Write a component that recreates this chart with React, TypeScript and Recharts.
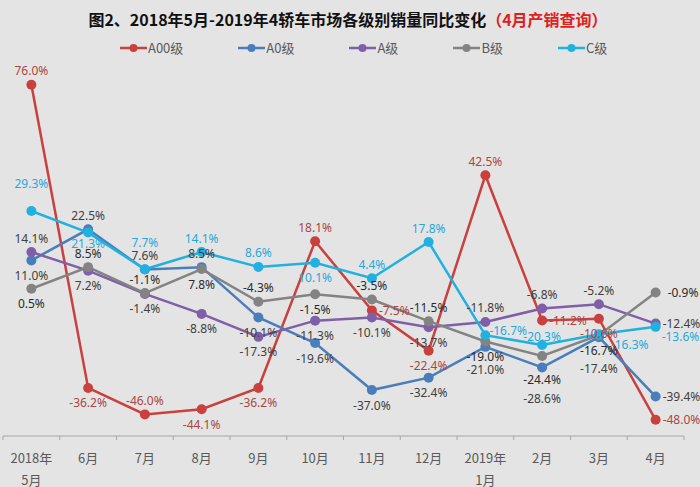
import { LineChart, Line, XAxis, YAxis, LabelList } from "recharts"

// months on the category axis (two-line labels at year starts)
const months = ["2018年\n5月", "6月", "7月", "8月", "9月", "10月", "11月", "12月", "2019年\n1月", "2月", "3月", "4月"]

// year-on-year change, %
const a00 = [76.0, -36.2, -46.0, -44.1, -36.2, 18.1, -7.5, -22.4, 42.5, -11.2, -10.6, -48.0]
const a0 = [11.0, 22.5, 7.6, 8.5, -10.1, -19.6, -37.0, -32.4, -21.0, -28.6, -17.4, -39.4]
const aClass = [14.1, 7.2, -1.4, -8.8, -17.3, -11.3, -10.1, -13.7, -11.8, -6.8, -5.2, -12.4]
const bClass = [0.5, 8.5, -1.1, 7.8, -4.3, -1.5, -3.5, -11.5, -19.0, -24.4, -16.7, -0.9]
const cClass = [29.3, 21.3, 7.7, 14.1, 8.6, 10.1, 4.4, 17.8, -16.7, -20.3, -16.3, -13.6]

const data = months.map((m, i) => ({
  month: m,
  a00: a00[i],
  a0: a0[i],
  a: aClass[i],
  b: bClass[i],
  c: cClass[i],
}))

const W = 700
const H = 487
const margin = { top: 74, right: 16, bottom: 0, left: 3 }
const BAND = (W - margin.left - margin.right) / months.length

// where each data label sits relative to its point
const OFFSETS: Record<string, [number, number, string]> = {
  t: [0, -14, "middle"],
  T: [0, -27, "middle"],
  u: [0, -8, "middle"],
  d: [0, 11, "middle"],
  b: [0, 15, "middle"],
  m: [0, 23, "middle"],
  B: [0, 31, "middle"],
  r: [7, 0, "start"],
  q: [12, 0, "start"],
  s: [4, -5, "start"],
  S: [12, 10, "start"],
  R: [6, 10, "start"],
}

const series = [
  { key: "a00", name: "A00级", color: "#c8413e", text: "#a94744", place: "tbtbbtrbtrbr" },
  { key: "a0", name: "A0级", color: "#4a7ebb", text: "#404040", place: "btttbbbbmBBr" },
  { key: "a", name: "A级", color: "#7f60a8", text: "#404040", place: "tbbbbbbbtttr" },
  { key: "b", name: "B级", color: "#838383", text: "#2b2b2b", place: "bttbtbttbmbq" },
  { key: "c", name: "C级", color: "#22b1df", text: "#27a8db", place: "TdTttbttsuSR" },
]

const makeLabel = (color: string, place: string) => (props: any) => {
  const { x, y, value, index } = props
  const [dx, dy, anchor] = OFFSETS[place[index]] || OFFSETS.t
  return (
    <text
      x={x + dx}
      y={y + dy}
      fill={color}
      fontSize={12}
      fontFamily="'Noto Sans', sans-serif"
      textAnchor={anchor as any}
      dominantBaseline="central"
    >
      {Number(value).toFixed(1)}%
    </text>
  )
}

const MonthTick = (props: any) => {
  const { x, y, payload, index } = props
  const lines = String(payload.value).split("\n")
  const left = x - BAND / 2
  return (
    <g>
      <line x1={left} x2={left} y1={y} y2={y + 4} stroke="#a6a6a6" />
      {index === months.length - 1 && (
        <line x1={x + BAND / 2} x2={x + BAND / 2} y1={y} y2={y + 4} stroke="#a6a6a6" />
      )}
      {lines.map((l, i) => (
        <text
          key={i}
          x={x}
          y={y + 21 + i * 22}
          textAnchor="middle"
          dominantBaseline="central"
          fontSize={13}
          fill="#595959"
          fontFamily="'Noto Sans CJK SC', sans-serif"
        >
          {l}
        </text>
      ))}
    </g>
  )
}

export default function App() {
  return (
    <div
      style={{
        position: "absolute",
        left: 0,
        top: 0,
        width: W,
        height: H,
        background: "#e4e4e4",
        overflow: "hidden",
      }}
    >
      <div
        style={{
          position: "absolute",
          top: 8,
          left: 0,
          width: 696,
          textAlign: "center",
          fontFamily: "'Noto Sans CJK SC', sans-serif",
          fontWeight: 700,
          fontSize: 16,
          lineHeight: "22px",
          color: "#111",
        }}
      >
        图2、2018年5月-2019年4轿车市场各级别销量同比变化<span style={{ color: "#e0201c" }}>（4月产销查询）</span>
      </div>
      <div
        style={{
          position: "absolute",
          top: 38,
          left: 120,
          display: "flex",
          gap: 55,
          fontFamily: "'Noto Sans CJK SC', sans-serif",
          fontSize: 13,
          lineHeight: "20px",
          color: "#595959",
        }}
      >
        {series.map((s) => (
          <div key={s.key} style={{ display: "flex", alignItems: "center" }}>
            <svg width={27} height={10} style={{ marginRight: 1 }}>
              <line x1={0} x2={27} y1={5} y2={5} stroke={s.color} strokeWidth={2.5} />
              <circle cx={13.5} cy={5} r={4} fill={s.color} />
            </svg>
            <span>{s.name}</span>
          </div>
        ))}
      </div>
      <div style={{ position: "absolute", left: 0, top: 0 }}>
        <LineChart width={W} height={H} data={data} margin={margin}>
          <XAxis
            dataKey="month"
            interval={0}
            padding={{ left: BAND / 2, right: BAND / 2 }}
            height={H - 436}
            tickSize={0}
            tickMargin={0}
            tickLine={false}
            axisLine={{ stroke: "#a6a6a6" }}
            tick={<MonthTick />}
          />
          <YAxis hide domain={[-54, 80]} type="number" allowDataOverflow />
          {series.map((s) => (
            <Line
              key={s.key}
              dataKey={s.key}
              name={s.name}
              stroke={s.color}
              strokeWidth={2.5}
              dot={{ r: 5, fill: s.color, stroke: s.color, strokeWidth: 0 }}
              isAnimationActive={false}
            >
              <LabelList dataKey={s.key} content={makeLabel(s.text, s.place)} />
            </Line>
          ))}
        </LineChart>
      </div>
    </div>
  )
}
